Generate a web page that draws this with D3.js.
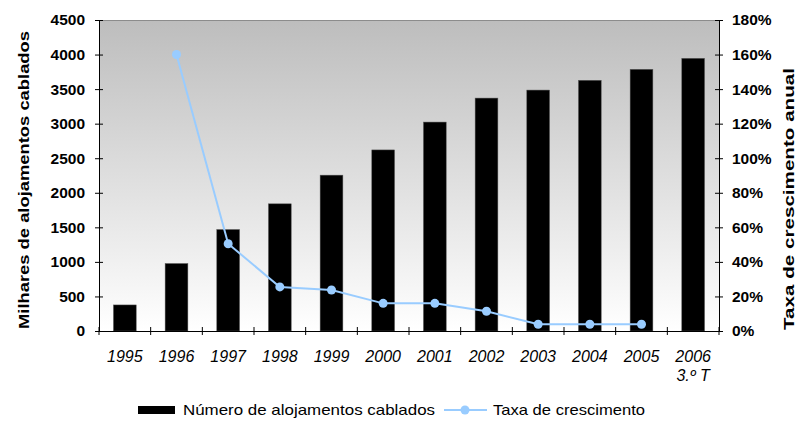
<!DOCTYPE html>
<html>
<head>
<meta charset="utf-8">
<script src="https://cdn.jsdelivr.net/npm/d3@7"></script>
<style>
  body { margin: 0; background: #fff; }
  svg { display: block; font-family: "Liberation Sans", Arial, sans-serif; }
  .tick text { fill: #000; }
</style>
</head>
<body>
<svg id="chart" width="801" height="421"></svg>
<script>
// DATA
const years = ["1995", "1996", "1997", "1998", "1999", "2000", "2001", "2002", "2003", "2004", "2005", "2006"];
const alojamentos = [377, 976, 1468, 1840, 2255, 2620, 3023, 3370, 3486, 3627, 3786, 3945];
// growth rate (fraction), none for first and last year
const taxa = [null, 1.60, 0.505, 0.255, 0.237, 0.16, 0.16, 0.114, 0.039, 0.039, 0.039, null];
const leftTicks = [0, 500, 1000, 1500, 2000, 2500, 3000, 3500, 4000, 4500];
const rightTicks = [0, 0.2, 0.4, 0.6, 0.8, 1.0, 1.2, 1.4, 1.6, 1.8];

// SETUP
const plot = { left: 99, right: 719, top: 20, bottom: 331 };
const fontFam = "Liberation Sans, Arial, sans-serif";
const svg = d3.select("#chart");

const x = d3.scaleBand()
    .domain(years)
    .range([plot.left, plot.right])
    .padding(0);

const yLeft = d3.scaleLinear()
    .domain([0, 4500])
    .range([plot.bottom, plot.top]);

const yRight = d3.scaleLinear()
    .domain([0, 1.8])
    .range([plot.bottom, plot.top]);

// background gradient of plot area
const grad = svg.append("defs").append("linearGradient")
    .attr("id", "bg")
    .attr("x1", 0).attr("y1", 0).attr("x2", 0).attr("y2", 1);
grad.append("stop").attr("offset", "0%").attr("stop-color", "#bdbdbd");
grad.append("stop").attr("offset", "100%").attr("stop-color", "#ffffff");

svg.append("rect")
    .attr("x", plot.left)
    .attr("y", plot.top)
    .attr("width", plot.right - plot.left)
    .attr("height", plot.bottom - plot.top)
    .attr("fill", "url(#bg)");

svg.append("line")
    .attr("x1", plot.left).attr("x2", plot.right)
    .attr("y1", plot.top + 0.5).attr("y2", plot.top + 0.5)
    .attr("stroke", "#8c8c8c");

// BARS
const barW = x.bandwidth() * 0.44;
svg.selectAll(".bar")
    .data(years.map((y, i) => ({ year: y, value: alojamentos[i] })))
    .enter()
    .append("rect")
    .attr("class", "bar")
    .attr("x", d => x(d.year) + (x.bandwidth() - barW) / 2)
    .attr("y", d => yLeft(d.value))
    .attr("width", barW)
    .attr("height", d => yLeft(0) - yLeft(d.value))
    .attr("fill", "#000")
    .attr("stroke", "#555")
    .attr("stroke-width", 0.5);

// LINE (growth rate)
const lineData = years.map((y, i) => ({ year: y, value: taxa[i] }))
    .filter(d => d.value != null);

const line = d3.line()
    .x(d => x(d.year) + x.bandwidth() / 2)
    .y(d => yRight(d.value));

svg.append("path")
    .datum(lineData)
    .attr("d", line)
    .attr("fill", "none")
    .attr("stroke", "#99ccff")
    .attr("stroke-width", 2);

svg.selectAll(".dot")
    .data(lineData)
    .enter()
    .append("circle")
    .attr("class", "dot")
    .attr("cx", d => x(d.year) + x.bandwidth() / 2)
    .attr("cy", d => yRight(d.value))
    .attr("r", 4.5)
    .attr("fill", "#99ccff");

// AXES
// left
const gLeft = svg.append("g")
    .attr("transform", `translate(${plot.left},0)`)
    .call(d3.axisLeft(yLeft).tickValues(leftTicks).tickFormat(d3.format("d"))
        .tickSize(4).tickPadding(10).tickSizeOuter(0));
gLeft.selectAll(".tick line").attr("x1", 4);
gLeft.selectAll("text").attr("font-size", 15.5).attr("font-weight", "bold")
    .attr("font-family", fontFam);
gLeft.select(".domain").attr("stroke", "#000");

// right
const gRight = svg.append("g")
    .attr("transform", `translate(${plot.right},0)`)
    .call(d3.axisRight(yRight).tickValues(rightTicks).tickFormat(d3.format(".0%"))
        .tickSize(4).tickPadding(9).tickSizeOuter(0));
gRight.selectAll(".tick line").attr("x1", -4);
gRight.selectAll("text").attr("font-size", 15.5).attr("font-weight", "bold")
    .attr("font-family", fontFam);

// bottom: ticks at category boundaries, labels at centres
const gBottom = svg.append("g")
    .attr("transform", `translate(0,${plot.bottom})`)
    .call(d3.axisBottom(x).tickSize(0).tickPadding(20));
gBottom.select(".domain").attr("stroke", "#000");
gBottom.selectAll("text")
    .attr("font-size", 16)
    .attr("font-style", "italic")
    .attr("font-family", fontFam);
gBottom.selectAll(".tick")
    .filter(d => d === "2006")
    .append("text")
    .attr("fill", "#000")
    .attr("y", 20)
    .attr("dy", "1.85em")
    .attr("font-size", 16)
    .attr("font-style", "italic")
    .attr("font-family", fontFam)
    .text("3.º T");

const bounds = years.map(d => x(d)).concat([plot.right]);
gBottom.selectAll(".sep")
    .data(bounds)
    .enter()
    .append("line")
    .attr("class", "sep")
    .attr("x1", d => d).attr("x2", d => d)
    .attr("y1", -4).attr("y2", 4)
    .attr("stroke", "#000");

// AXIS TITLES (stretched a little to the width of the original)
svg.append("text")
    .attr("transform", "translate(29,180) rotate(-90)")
    .attr("text-anchor", "middle")
    .attr("font-size", 15)
    .attr("font-weight", "bold")
    .attr("textLength", 298)
    .attr("lengthAdjust", "spacingAndGlyphs")
    .text("Milhares de alojamentos cablados");

svg.append("text")
    .attr("transform", "translate(794,199) rotate(-90)")
    .attr("text-anchor", "middle")
    .attr("font-size", 15)
    .attr("font-weight", "bold")
    .attr("textLength", 262)
    .attr("lengthAdjust", "spacingAndGlyphs")
    .text("Taxa de crescimento anual");

// LEGEND
const legend = svg.append("g").attr("font-size", 15);

legend.append("rect")
    .attr("x", 138).attr("y", 406)
    .attr("width", 37).attr("height", 8)
    .attr("fill", "#000");
legend.append("text")
    .attr("x", 183).attr("y", 415)
    .attr("textLength", 252)
    .attr("lengthAdjust", "spacingAndGlyphs")
    .text("Número de alojamentos cablados");

legend.append("line")
    .attr("x1", 444).attr("x2", 487)
    .attr("y1", 410).attr("y2", 410)
    .attr("stroke", "#99ccff").attr("stroke-width", 2);
legend.append("circle")
    .attr("cx", 465).attr("cy", 410).attr("r", 4.5)
    .attr("fill", "#99ccff");
legend.append("text")
    .attr("x", 493).attr("y", 415)
    .attr("textLength", 152)
    .attr("lengthAdjust", "spacingAndGlyphs")
    .text("Taxa de crescimento");
</script>
</body>
</html>
